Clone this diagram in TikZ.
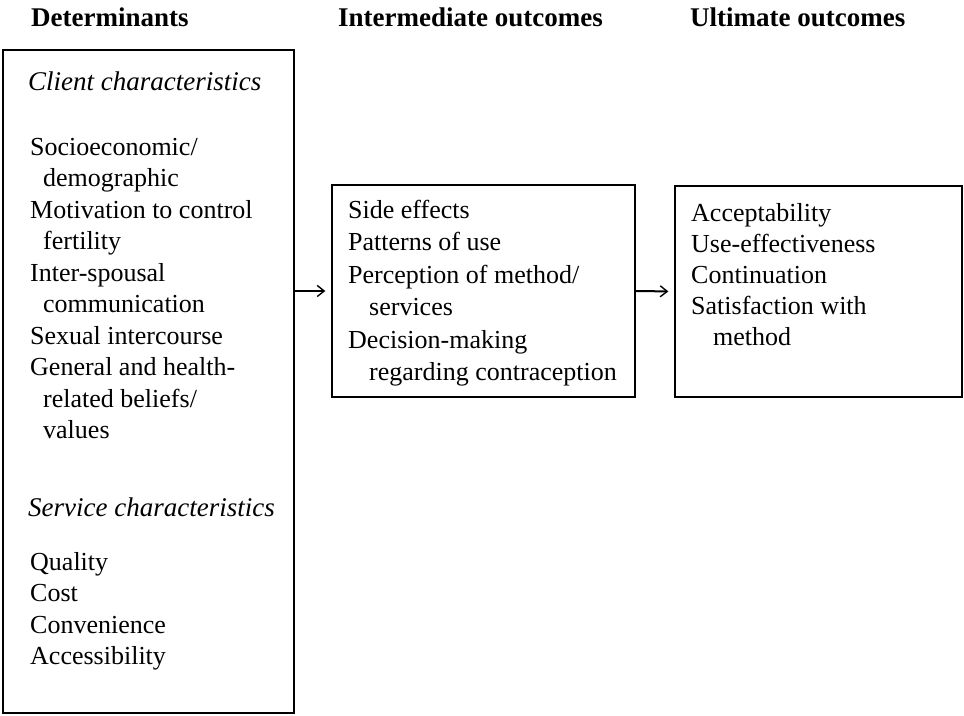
\documentclass[tikz,border=0pt]{standalone}
\usepackage{fontspec}
\setmainfont{Liberation Serif}
\usetikzlibrary{arrows.meta}
\begin{document}
\begin{tikzpicture}[x=1pt,y=-1pt,
  boxstyle/.style={draw=black,line width=1.3pt,rectangle,inner sep=0pt},
  hdr/.style={anchor=base west,inner sep=0pt,font=\fontsize{27}{30}\selectfont\bfseries},
  txt/.style={anchor=base west,inner sep=0pt,font=\fontsize{26}{30}\selectfont},
  itx/.style={txt,font=\fontsize{27}{30}\selectfont\itshape},
  arr/.style={-{Straight Barb[length=7pt,width=11pt,line width=1.4pt]},line width=1.2pt,shorten >=6pt}]
\useasboundingbox (0,0) rectangle (964,715);
% headers
\node[hdr] (h1) at (31,26) {Determinants};
\node[hdr] (h2) at (338,26) {Intermediate outcomes};
\node[hdr] (h3) at (690,26) {Ultimate outcomes};
% boxes
\node[boxstyle,minimum width=291pt,minimum height=663pt] (det) at (148.5,381.5) {};
\node[boxstyle,minimum width=303pt,minimum height=212pt] (mid) at (483.5,291) {};
\node[boxstyle,minimum width=287pt,minimum height=211pt] (ult) at (818.5,291.5) {};
% left text
\node[itx] (c0) at (28,90) {Client characteristics};
\node[txt] (c1) at (30,155) {Socioeconomic/};
\node[txt] (c2) at (43,186.5) {demographic};
\node[txt] (c3) at (30,218) {Motivation to control};
\node[txt] (c4) at (43,249.5) {fertility};
\node[txt] (c5) at (30,281) {Inter-spousal};
\node[txt] (c6) at (43,312.5) {communication};
\node[txt] (c7) at (30,344) {Sexual intercourse};
\node[txt] (c8) at (30,375.5) {General and health-};
\node[txt] (c9) at (43,407) {related beliefs/};
\node[txt] (c10) at (43,438.5) {values};
\node[itx] (s0) at (28,516) {Service characteristics};
\node[txt] (s1) at (30,570) {Quality};
\node[txt] (s2) at (30,601.5) {Cost};
\node[txt] (s3) at (30,633) {Convenience};
\node[txt] (s4) at (30,664.5) {Accessibility};
% middle text
\node[txt] (m1) at (348,218) {Side effects};
\node[txt] (m2) at (348,250.5) {Patterns of use};
\node[txt] (m3) at (348,283) {Perception of method/};
\node[txt] (m4) at (369,315.5) {services};
\node[txt] (m5) at (348,348) {Decision-making};
\node[txt] (m6) at (369,380.5) {regarding contraception};
% right text
\node[txt] (u1) at (691,221) {Acceptability};
\node[txt] (u2) at (691,252) {Use-effectiveness};
\node[txt] (u3) at (691,283) {Continuation};
\node[txt] (u4) at (691,314) {Satisfaction with};
\node[txt] (u5) at (713,345) {method};
% arrows
\draw[arr] (det.east |- mid.west) -- (mid.west);
\draw[arr,line width=2pt] (mid.east) -- (ult.west);
\end{tikzpicture}
\end{document}
